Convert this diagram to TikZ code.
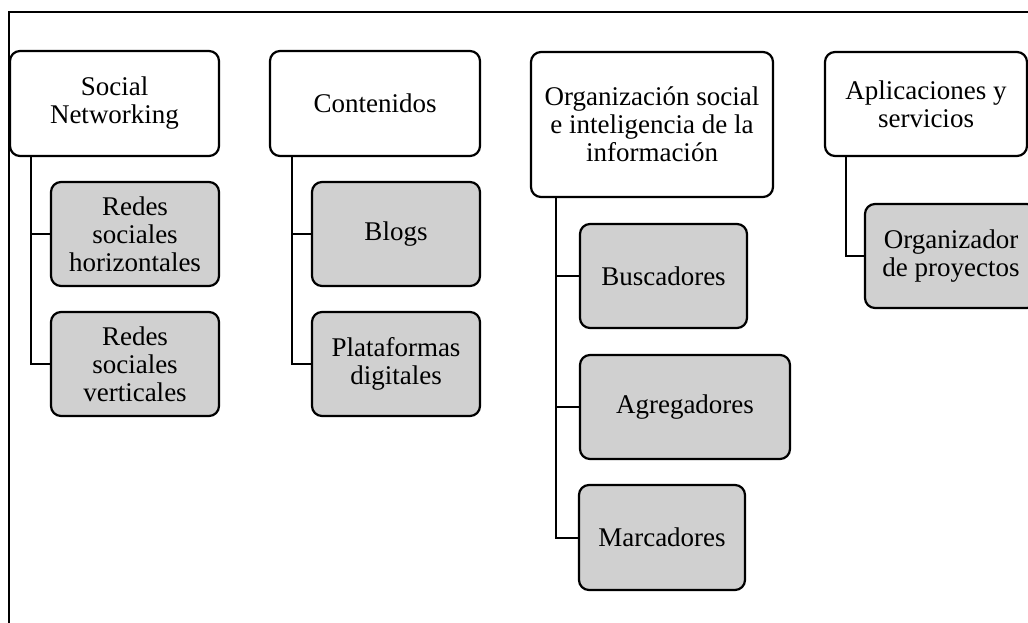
\documentclass[tikz,border=0pt]{standalone}
\usepackage{fontspec}
\setmainfont{Liberation Serif}
\definecolor{boxgray}{RGB}{208,208,208}
\begin{document}
\begin{tikzpicture}[x=1pt,y=-1pt,
  topbox/.style={draw=black,line width=2.2pt,rounded corners=10pt,fill=white,
    inner sep=0pt,align=center,font=\fontsize{27}{28}\selectfont},
  subbox/.style={topbox,fill=boxgray},
  link/.style={draw=black,line width=2pt}]
\useasboundingbox (0,0) rectangle (1028,622);
% outer frame (open at right and bottom)
\coordinate (fbl) at (9,640);
\coordinate (ftl) at (9,12);
\coordinate (ftr) at (1040,12);
\draw[line width=1.4pt] (fbl) -- (ftl) -- (ftr);
% top boxes
\node[topbox,minimum width=209pt,minimum height=105pt] (sn) at (114.5,103.5) {Social\\Networking};
\node[topbox,minimum width=210pt,minimum height=105pt] (co) at (375,103.5) {Contenidos};
\node[topbox,minimum width=242pt,minimum height=145pt] (org) at (652,124.5) {Organización social\\e inteligencia de la\\información};
\node[topbox,minimum width=202pt,minimum height=104pt] (ap) at (926,104) {Aplicaciones y\\servicios};
% sub boxes
\node[subbox,minimum width=168pt,minimum height=104pt] (rh) at (135,234) {Redes\\sociales\\horizontales};
\node[subbox,minimum width=168pt,minimum height=104pt] (rv) at (135,364) {Redes\\sociales\\verticales};
\node[subbox,minimum width=168pt,minimum height=104pt] (bl) at (396,234) {Blogs};
\node[subbox,minimum width=168pt,minimum height=104pt] (pd) at (396,364) {Plataformas\\digitales};
\node[subbox,minimum width=167pt,minimum height=104pt] (bu) at (663.5,276) {Buscadores};
\node[subbox,minimum width=210pt,minimum height=104pt] (ag) at (685,407) {Agregadores};
\node[subbox,minimum width=166pt,minimum height=105pt] (ma) at (662,537.5) {Marcadores};
\node[subbox,minimum width=172pt,minimum height=104pt] (og) at (951,256) {Organizador\\de proyectos};
% connector x positions
\coordinate (snx) at (31,0);
\coordinate (cox) at (292,0);
\coordinate (orgx) at (556,0);
\coordinate (apx) at (846,0);
% connectors
\draw[link] (sn.south -| snx) |- (rv.west);
\draw[link] (rh.west) -- (rh.west -| snx);
\draw[link] (co.south -| cox) |- (pd.west);
\draw[link] (bl.west) -- (bl.west -| cox);
\draw[link] (org.south -| orgx) |- (ma.west);
\draw[link] (bu.west) -- (bu.west -| orgx);
\draw[link] (ag.west) -- (ag.west -| orgx);
\draw[link] (ap.south -| apx) |- (og.west);
\end{tikzpicture}
\end{document}
